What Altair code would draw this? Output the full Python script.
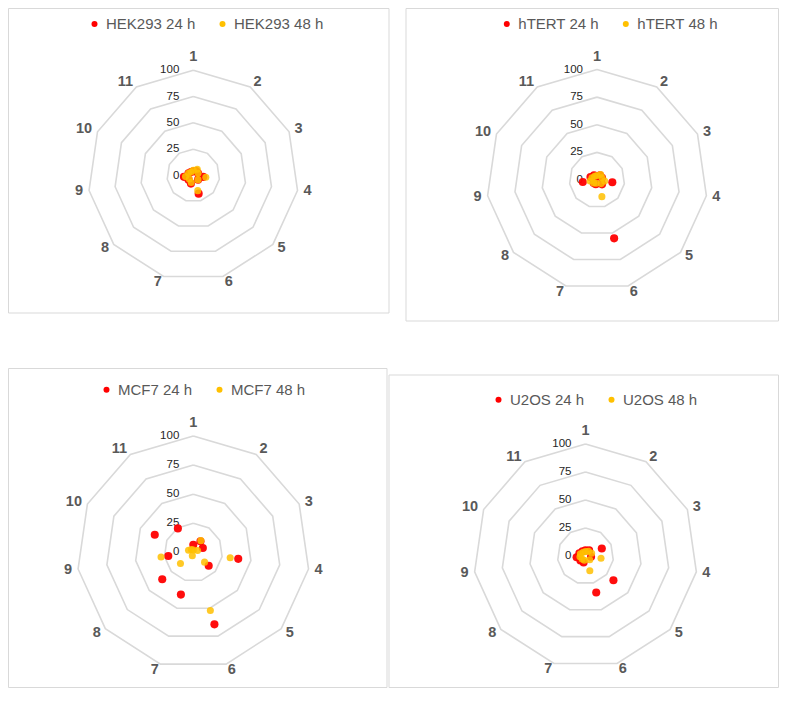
import altair as alt
import pandas as pd

# ---- data ----
CATS = list(range(1, 12))
RINGS = [25, 50, 75, 100]
TICKS = [0, 25, 50, 75, 100]

HEK293_24 = [4, 5, 5, 9.5, 6, 18, 8, 6, 9, 5, 4]
HEK293_48 = [5, 7, 5, 12, 6, 15, 7, 5, 7.5, 5, 4]
HTERT_24 = [3, 5, 5, 14, 6, 55, 4, 4, 13, 6.5, 5]
HTERT_48 = [4, 6, 5, 7, 5, 15.7, 3, 4, 6.3, 5, 4]
MCF7_24 = [6.6, 11.4, 9.0, 39, 17.5, 64.4, 37.8, 35.3, 21.7, 36.4, 24.5]
MCF7_48 = [2, 12, 4, 32, 12.8, 52, 3, 14.6, 28, 4.5, 3]
U2OS_24 = [5, 6, 16, 5, 33, 34, 6, 6, 8, 6, 5]
U2OS_48 = [4, 5, 6, 14, 5, 13.7, 4, 4, 5, 5, 4]

RED = "#FF0000"
YEL = "#FFC000"
GRID = "#D9D9D9"
FONT = "Liberation Sans"
N = len(CATS)
ANG = "((datum.cat - 1) * 2 * PI / %d)" % N


def panel(name, v24, v48, cx, cy, R, ox, oy, w, h, border, leg):
    k = R / 100.0
    lx, ly = cx - ox, cy - oy
    xs = alt.Scale(domain=[-lx / k, (w - lx) / k], nice=False, zero=False)
    ys = alt.Scale(domain=[-(h - ly) / k, ly / k], nice=False, zero=False)
    X = lambda f="x": alt.X(f + ":Q", scale=xs, axis=None)
    Y = lambda f="y": alt.Y(f + ":Q", scale=ys, axis=None)

    s24, s48 = name + " 24 h", name + " 48 h"
    pts = pd.DataFrame({
        "cat": CATS + CATS,
        "value": list(v24) + list(v48),
        "series": [s24] * N + [s48] * N,
    })
    rings = pd.DataFrame([{"ring": r, "cat": i + 1} for r in RINGS for i in range(N + 1)])
    ticks = pd.DataFrame({"t": TICKS, "lab": [str(t) for t in TICKS]})
    cats = pd.DataFrame({"cat": CATS, "lab": [str(c) for c in CATS]})
    bdf = pd.DataFrame({"a": [0]})

    ring_layer = alt.Chart(rings).transform_calculate(
        x="datum.ring * sin(" + ANG + ")", y="datum.ring * cos(" + ANG + ")"
    ).mark_line(color=GRID, strokeWidth=1.6).encode(
        x=X(), y=Y(), detail="ring:N", order="cat:Q"
    )

    tick_layer = alt.Chart(ticks).transform_calculate(x="0", y="datum.t").mark_text(
        align="right", baseline="middle", dx=-14, fontSize=11.5, font=FONT, color="#262626"
    ).encode(x=X(), y=Y(), text="lab:N")

    LR = 100 + 6.0 / k
    cbase = alt.Chart(cats).transform_calculate(
        x="%f * sin(%s)" % (LR, ANG), y="%f * cos(%s)" % (LR, ANG)
    )
    tstyle = dict(fontSize=14.5, fontWeight="bold", font=FONT, color="#595959")
    c_top = cbase.transform_filter("datum.cat == 1").mark_text(
        align="center", baseline="bottom", **tstyle).encode(x=X(), y=Y(), text="lab:N")
    c_right = cbase.transform_filter("datum.cat >= 2 && datum.cat <= 6").mark_text(
        align="left", baseline="middle", **tstyle).encode(x=X(), y=Y(), text="lab:N")
    c_left = cbase.transform_filter("datum.cat >= 7").mark_text(
        align="right", baseline="middle", **tstyle).encode(x=X(), y=Y(), text="lab:N")

    color = alt.Color(
        "series:N",
        scale=alt.Scale(domain=[s24, s48], range=[RED, YEL]),
        legend=alt.Legend(
            orient="none", legendX=leg[0], legendY=leg[1], direction="horizontal",
            title=None, symbolType="circle", symbolSize=36, symbolStrokeWidth=0,
            symbolOpacity=1, labelFontSize=15, labelFont=FONT, labelColor="#595959",
            columnPadding=19, labelOffset=4, padding=0,
        ),
    )
    pbase = alt.Chart(pts).transform_calculate(
        x="datum.value * sin(" + ANG + ")", y="datum.value * cos(" + ANG + ")"
    )
    p24 = pbase.transform_filter(alt.datum.series == s24).mark_circle(
        size=66, opacity=0.95).encode(x=X(), y=Y(), color=color)
    p48 = pbase.transform_filter(alt.datum.series == s48).mark_circle(
        size=50, opacity=0.85).encode(x=X(), y=Y(), color=color)

    frame = alt.Chart(bdf).mark_rect(fillOpacity=0, stroke=GRID, strokeWidth=1).encode(
        x=alt.value(border[0]), x2=alt.value(border[2]),
        y=alt.value(border[1]), y2=alt.value(border[3]),
    )

    return alt.layer(frame, ring_layer, tick_layer, c_top, c_right, c_left, p24, p48).properties(
        width=w, height=h
    )


tl = panel("HEK293", HEK293_24, HEK293_48, 193.3, 175.5, 105.3, 8, 8, 389, 360,
           (0.5, 0.5, 381, 305), (79, 8.3))
tr = panel("hTERT", HTERT_24, HTERT_48, 597, 180, 110.5, 397, 8, 382, 360,
           (9, 0.5, 381.5, 313), (102.3, 8.3))
bl = panel("MCF7", MCF7_24, MCF7_48, 193.3, 552.4, 116.4, 8, 368, 380, 320,
           (0.5, 0.5, 379, 319.5), (91, 14))
br = panel("U2OS", U2OS_24, U2OS_48, 585.5, 556, 112, 388, 368, 391, 320,
           (1, 7, 390.5, 319.5), (103, 24))

row1 = alt.hconcat(tl, tr, spacing=0).resolve_scale(
    x="independent", y="independent", color="independent")
row2 = alt.hconcat(bl, br, spacing=0).resolve_scale(
    x="independent", y="independent", color="independent")
chart = alt.vconcat(row1, row2, spacing=0).resolve_scale(
    x="independent", y="independent", color="independent"
).properties(padding=0).configure_view(stroke=None)

chart.save("out.html", embed_options={"renderer": "svg", "actions": False})
